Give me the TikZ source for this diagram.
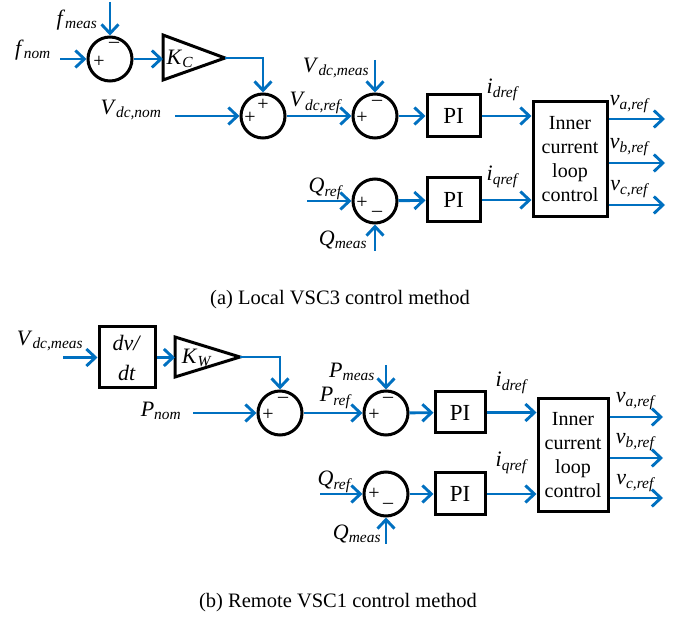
\documentclass[tikz,border=0pt]{standalone}
\usepackage{fontspec}
\setmainfont{Liberation Serif}
\usetikzlibrary{arrows.meta}
\definecolor{sigblue}{RGB}{0,112,192}
\newcommand{\sig}[2]{\textit{#1}\textsubscript{\textit{#2}}}

\begin{document}
\begin{tikzpicture}[x=1pt,y=-1pt,
  sum/.style={circle,draw,line width=3pt,minimum size=44pt,inner sep=0pt},
  blk/.style={draw,line width=3pt,inner sep=0pt},
  lbl/.style={font=\fontsize{22}{24}\selectfont,inner sep=0pt},
  sgn/.style={font=\fontsize{20}{20}\selectfont,inner sep=0pt},
  sig/.style={draw=sigblue,line width=2.9pt,-{Straight Barb[length=9pt,width=17pt]}},
  wire/.style={draw=sigblue,line width=2.9pt}]
\useasboundingbox (0,0) rectangle (686,617);

% (a) local control
\node[sum](s1) at (110,59) {};
\node[sgn](s1p) at (99,62) {+};
\node[sgn](s1m) at (114,45) {\textendash};
\node[sum](s2) at (263,116) {};
\node[sgn](s2t) at (263,105) {+};
\node[sgn](s2p) at (250,118) {+};
\node[sum](s3) at (375,116) {};
\node[sgn](s3p) at (362,118) {+};
\node[sgn](s3m) at (377,103) {\textendash};
\node[sum](s4) at (375,201) {};
\node[sgn](s4p) at (362,203) {+};
\node[sgn](s4m) at (377,214) {\textendash};
\node[blk,minimum width=53pt,minimum height=42pt,font=\fontsize{23}{24}\selectfont](pi1) at (453.5,116) {PI};
\node[blk,minimum width=53pt,minimum height=44pt,font=\fontsize{23}{24}\selectfont](pi2) at (453.5,200) {PI};
\node[blk,minimum width=74pt,minimum height=115pt,align=center,font=\fontsize{20}{24}\selectfont](in1) at (570,159.5) {Inner\\current\\loop\\control};
\draw[line width=3pt] (163,35) coordinate(kcl) -- (225,58) coordinate(kc) -- (163,80) -- cycle;
\node[lbl](kclbl) at (180,59) {\sig{K}{C}};

\node[lbl](fmeas) at (77,20) {\sig{f}{meas}};
\node[lbl](fnom) at (33,50) {\sig{f}{nom}};
\node[lbl](vnom) at (131,110) {\sig{V}{dc,nom}};
\node[lbl](vref) at (316,103) {\sig{V}{dc,ref}};
\node[lbl](vmeas) at (336,68) {\sig{V}{dc,meas}};
\node[lbl](qref) at (326,189) {\sig{Q}{ref}};
\node[lbl](qmeas) at (343,240) {\sig{Q}{meas}};
\node[lbl](idref) at (503,90) {\sig{i}{dref}};
\node[lbl](iqref) at (503,177) {\sig{i}{qref}};
\node[lbl](va) at (630,104) {\sig{v}{a,ref}};
\node[lbl](vb) at (630,147) {\sig{v}{b,ref}};
\node[lbl](vc) at (630,189) {\sig{v}{c,ref}};

\coordinate(fm) at (110,2);
\coordinate(fn) at (60,59);
\coordinate(vn) at (175,116);
\coordinate(vm) at (375,60);
\coordinate(qr) at (307,201);
\coordinate(qm) at (375,251);
\draw[sig] (fm) -- (s1);
\draw[sig] (fn) -- (s1);
\draw[sig] (s1) -- (s1 -| kcl);
\draw[sig] (kc) -| (s2);
\draw[sig] (vn) -- (s2);
\draw[sig] (s2) -- (s3);
\draw[sig] (vm) -- (s3);
\draw[sig] (s3) -- (pi1);
\draw[sig] (pi1) -- (pi1 -| in1.west);
\draw[sig] (qr) -- (s4);
\draw[sig] (qm) -- (s4);
\draw[sig] (s4) -- (pi2);
\draw[sig] (pi2) -- (pi2 -| in1.west);
\draw[sig] (in1.east |- 0,119) -- (665,119);
\draw[sig] (in1.east |- 0,163) -- (665,163);
\draw[sig] (in1.east |- 0,205) -- (665,205);

\node[font=\fontsize{20.5}{22}\selectfont](capa) at (340,300) {(a) Local VSC3 control method};

% (b) remote control
\node[blk,minimum width=56pt,minimum height=61pt,align=center,font=\fontsize{22}{30}\selectfont](dvdt) at (127,357.5) {\textit{dv/}\\\textit{dt}};
\draw[line width=3pt] (175,337) coordinate(kwl) -- (240,357) coordinate(kw) -- (175,377) -- cycle;
\node[lbl](kwlbl) at (197,358) {\sig{K}{W}};
\node[sum](s5) at (280,413) {};
\node[sgn](s5p) at (268,415) {+};
\node[sgn](s5m) at (283,400) {\textendash};
\node[sum](s6) at (386,413) {};
\node[sgn](s6p) at (374,415) {+};
\node[sgn](s6m) at (388,400) {\textendash};
\node[sum](s7) at (386,494) {};
\node[sgn](s7p) at (374,494) {+};
\node[sgn](s7m) at (388,506) {\textendash};
\node[blk,minimum width=50pt,minimum height=41pt,font=\fontsize{23}{24}\selectfont](pi3) at (460,412.5) {PI};
\node[blk,minimum width=50pt,minimum height=42pt,font=\fontsize{23}{24}\selectfont](pi4) at (460,494) {PI};
\node[blk,minimum width=70pt,minimum height=113pt,align=center,font=\fontsize{20}{24}\selectfont](in2) at (573,455.5) {Inner\\current\\loop\\control};

\node[lbl](vmeas2) at (50,341) {\sig{V}{dc,meas}};
\node[lbl](pnom) at (161,411) {\sig{P}{nom}};
\node[lbl](pref) at (336,398) {\sig{P}{ref}};
\node[lbl](pmeas) at (352,372) {\sig{P}{meas}};
\node[lbl](qref2) at (335,482) {\sig{Q}{ref}};
\node[lbl](qmeas2) at (357,534) {\sig{Q}{meas}};
\node[lbl](idref2) at (512,383) {\sig{i}{dref}};
\node[lbl](iqref2) at (512,463) {\sig{i}{qref}};
\node[lbl](va2) at (636,401) {\sig{v}{a,ref}};
\node[lbl](vb2) at (636,442) {\sig{v}{b,ref}};
\node[lbl](vc2) at (636,483) {\sig{v}{c,ref}};

\coordinate(vm2) at (63,357.5);
\coordinate(pn) at (193,413);
\coordinate(pm) at (386,365);
\coordinate(qr2) at (320,494);
\coordinate(qm2) at (386,544);
\draw[sig] (vm2) -- (dvdt);
\draw[sig] (dvdt) -- (dvdt -| kwl);
\draw[sig] (kw) -| (s5);
\draw[sig] (pn) -- (s5);
\draw[sig] (s5) -- (s6);
\draw[sig] (pm) -- (s6);
\draw[sig] (s6) -- (pi3);
\draw[sig] (pi3) -- (pi3 -| in2.west);
\draw[sig] (qr2) -- (s7);
\draw[sig] (qm2) -- (s7);
\draw[sig] (s7) -- (pi4);
\draw[sig] (pi4) -- (pi4 -| in2.west);
\draw[sig] (in2.east |- 0,417) -- (663,417);
\draw[sig] (in2.east |- 0,458) -- (663,458);
\draw[sig] (in2.east |- 0,498) -- (663,498);

\node[font=\fontsize{20.5}{22}\selectfont](capb) at (338,603) {(b) Remote VSC1 control method};
\end{tikzpicture}
\end{document}
